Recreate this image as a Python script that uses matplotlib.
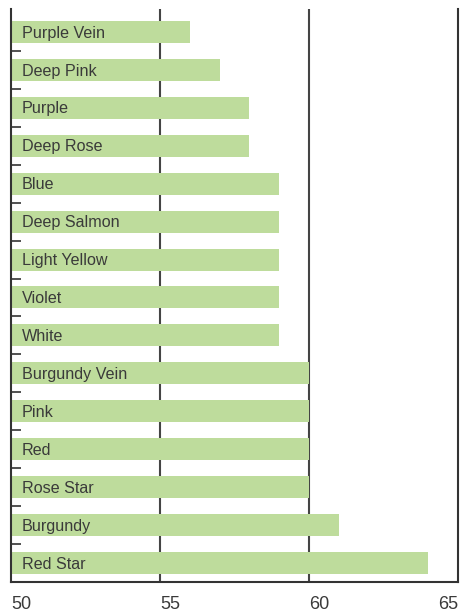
import matplotlib
matplotlib.use("Agg")
import matplotlib.pyplot as plt
import numpy as np

plt.rcParams['font.family'] = ['Liberation Sans', 'DejaVu Sans']

varieties = ['Purple Vein', 'Deep Pink', 'Purple', 'Deep Rose', 'Blue',
             'Deep Salmon', 'Light Yellow', 'Violet', 'White', 'Burgundy Vein',
             'Pink', 'Red', 'Rose Star', 'Burgundy', 'Red Star']
values = [56, 57, 58, 58, 59, 59, 59, 59, 59, 60, 60, 60, 60, 61, 64]
xticks = [50, 55, 60, 65]

bar_color = '#bedc9c'
dark = '#3a3a3a'

fig = plt.figure(figsize=(4.69, 6.14), dpi=100)
ax = fig.add_axes([11/469, 1 - 582/614, 447/469, (582 - 9.2)/614])

n = len(varieties)
ypos = np.arange(n)[::-1]
ax.barh(ypos, np.array(values) - 50, left=50, height=0.58, color=bar_color, zorder=2)

for y, name in zip(ypos, varieties):
    ax.text(50.37, y - 0.03, name, ha='left', va='center', fontsize=11.6, color=dark, zorder=3)

ax.set_xlim(50, 65)
ax.set_ylim(-0.5, n - 0.4)

for x in xticks[1:3]:
    ax.axvline(x, color='#444444', lw=1.5, zorder=1)

ax.spines['top'].set_visible(False)
for side in ['left', 'right', 'bottom']:
    ax.spines[side].set_color('#333333')
    ax.spines[side].set_linewidth(1.5)

ax.set_yticks([])
ax.set_yticks(np.arange(n) - 0.5, minor=True)
ax.tick_params(axis='y', which='minor', direction='in', length=7.5, width=1.2, color='#333333')

ax.set_xticks(xticks)
ax.set_xticklabels([str(t) for t in xticks])
ax.tick_params(axis='x', length=0, pad=10, labelsize=13, labelcolor=dark)
labels = ax.get_xticklabels()
for i, lab in enumerate(labels):
    lab.set_ha('right' if i == len(labels) - 1 else 'left')

fig.savefig('out.png', dpi=100)
